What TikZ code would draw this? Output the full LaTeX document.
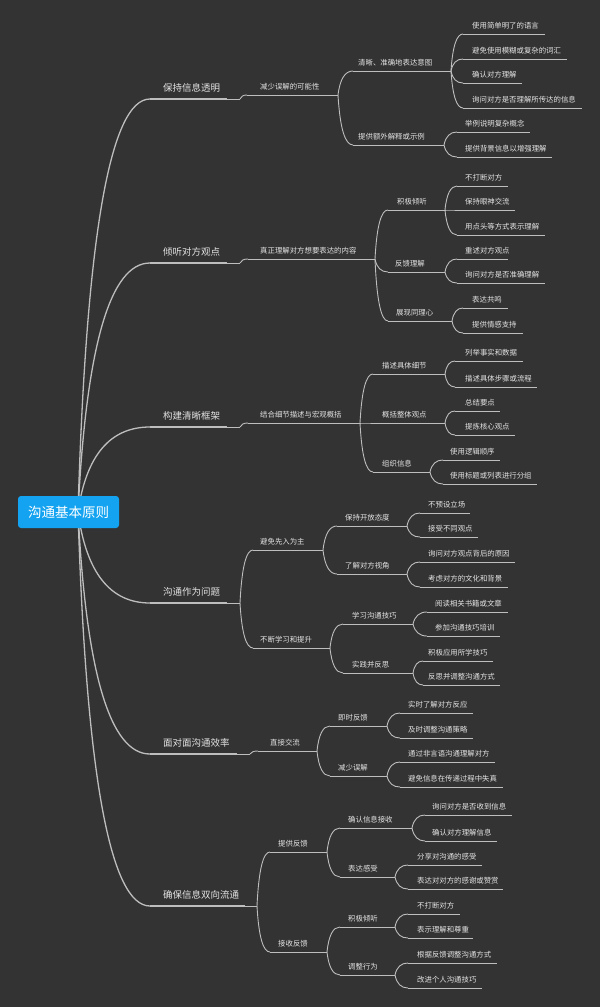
\documentclass[tikz,border=0pt]{standalone}
\usepackage{fontspec}
\setmainfont{Noto Sans CJK SC}
\usetikzlibrary{calc}
\definecolor{bg}{RGB}{51,51,51}
\definecolor{ln}{RGB}{190,190,190}
\definecolor{tx}{RGB}{228,228,228}
\definecolor{rootblue}{RGB}{20,163,240}
\tikzset{
  sub-lbl/.style={text=tx, font=\fontsize{7.4}{8}\selectfont, inner sep=0pt, anchor=west, yshift=8.6pt},
  one-lbl/.style={text=tx, font=\fontsize{9.5}{10}\selectfont, inner sep=0pt, anchor=west, yshift=11.6pt},
  sub-line/.style={draw=ln, line width=0.9pt},
  one-line/.style={draw=ln, line width=2pt},
  link/.style={draw=ln, line width=0.9pt},
  rootlink/.style={draw=ln, line width=1.3pt},
  rootbox/.style={fill=rootblue, rounded corners=3pt, minimum width=101pt, minimum height=32pt,
    text=white, font=\fontsize{13.5}{14}\selectfont, inner sep=0pt}
}
% name, kind, line start, line end, line y, text x, text
\newcommand\mmnode[7]{%
  \coordinate (#1-s) at (#3,#5);
  \coordinate (#1-e) at (#4,#5);
  \node[#2-lbl] (#1) at (#6,#5) {#7};
  \draw[#2-line] (#1-s) -- (#1-e);
}
% style, k, from, to  (quadratic curve with control at (x1+k*dx, y2))
\newcommand\mmlink[4]{%
  \draw[#1] let \p1=(#3), \p2=(#4) in
    (\p1) .. controls ({\x1+0.6667*#2*(\x2-\x1)},{\y1+0.6667*(\y2-\y1)})
          and ({\x2-0.6667*(1-#2)*(\x2-\x1)},{\y2}) .. (\p2);
}
\begin{document}
\begin{tikzpicture}[x=1pt,y=-1pt]
\fill[bg] (0,0) rectangle (600,1007);
\useasboundingbox (0,0) rectangle (600,1007);
\coordinate (root-c) at (78,512);

% ---------- A
\mmnode{A}{one}{150}{227}{99}{163}{保持信息透明}
\coordinate (A-f) at (240,99);
\mmnode{A1}{sub}{247}{338}{95}{260}{减少误解的可能性}
\mmnode{A11}{sub}{353}{451}{71}{358}{清晰、准确地表达意图}
\mmnode{A12}{sub}{353}{444}{145}{358}{提供额外解释或示例}
\mmnode{A111}{sub}{463}{545}{34}{472}{使用简单明了的语言}
\mmnode{A112}{sub}{463}{567}{59}{472}{避免使用模糊或复杂的词汇}
\mmnode{A113}{sub}{463}{522}{83}{472}{确认对方理解}
\mmnode{A114}{sub}{463}{582}{108}{472}{询问对方是否理解所传达的信息}
\mmnode{A121}{sub}{457}{530}{132}{465}{举例说明复杂概念}
\mmnode{A122}{sub}{457}{552}{157}{465}{提供背景信息以增强理解}

% ---------- B
\mmnode{B}{one}{150}{227}{263}{163}{倾听对方观点}
\coordinate (B-f) at (240,263);
\mmnode{B1}{sub}{248}{375}{259}{260}{真正理解对方想要表达的内容}
\mmnode{B11}{sub}{388}{445}{210}{397}{积极倾听}
\mmnode{B12}{sub}{388}{445}{272}{395}{反馈理解}
\mmnode{B13}{sub}{388}{452}{321}{396}{展现同理心}
\mmnode{B111}{sub}{457}{508}{186}{465}{不打断对方}
\mmnode{B112}{sub}{457}{515}{210}{465}{保持眼神交流}
\mmnode{B113}{sub}{457}{545}{235}{465}{用点头等方式表示理解}
\mmnode{B121}{sub}{457}{508}{259}{465}{重述对方观点}
\mmnode{B122}{sub}{457}{545}{283}{465}{询问对方是否准确理解}
\mmnode{B131}{sub}{463}{508}{308}{472}{表达共鸣}
\mmnode{B132}{sub}{463}{523}{333}{472}{提供情感支持}

% ---------- C
\mmnode{C}{one}{150}{227}{427}{163}{构建清晰框架}
\coordinate (C-f) at (240,427);
\mmnode{C1}{sub}{248}{360}{423}{260}{结合细节描述与宏观概括}
\mmnode{C11}{sub}{373}{445}{374}{382}{描述具体细节}
\mmnode{C12}{sub}{373}{445}{423}{382}{概括整体观点}
\mmnode{C13}{sub}{373}{430}{472}{382}{组织信息}
\mmnode{C111}{sub}{455}{523}{361}{465}{列举事实和数据}
\mmnode{C112}{sub}{455}{537}{387}{465}{描述具体步骤或流程}
\mmnode{C121}{sub}{455}{500}{411}{465}{总结要点}
\mmnode{C122}{sub}{455}{515}{435}{465}{提炼核心观点}
\mmnode{C131}{sub}{443}{500}{460}{450}{使用逻辑顺序}
\mmnode{C132}{sub}{443}{537}{484}{450}{使用标题或列表进行分组}

% ---------- D
\mmnode{D}{one}{150}{227}{603}{163}{沟通作为问题}
\coordinate (D-f) at (240,603);
\mmnode{D1}{sub}{253}{323}{550}{260}{避免先入为主}
\mmnode{D2}{sub}{253}{330}{648}{260}{不断学习和提升}
\mmnode{D11}{sub}{337}{407}{526}{345}{保持开放态度}
\mmnode{D12}{sub}{337}{407}{574}{345}{了解对方视角}
\mmnode{D21}{sub}{343}{413}{624}{352}{学习沟通技巧}
\mmnode{D22}{sub}{343}{413}{673}{352}{实践并反思}
\mmnode{D111}{sub}{420}{470}{513}{428}{不预设立场}
\mmnode{D112}{sub}{420}{478}{537}{428}{接受不同观点}
\mmnode{D121}{sub}{420}{515}{562}{428}{询问对方观点背后的原因}
\mmnode{D122}{sub}{420}{508}{587}{428}{考虑对方的文化和背景}
\mmnode{D211}{sub}{427}{508}{612}{435}{阅读相关书籍或文章}
\mmnode{D212}{sub}{427}{500}{636}{435}{参加沟通技巧培训}
\mmnode{D221}{sub}{423}{493}{661}{428}{积极应用所学技巧}
\mmnode{D222}{sub}{423}{500}{685}{428}{反思并调整沟通方式}

% ---------- E
\mmnode{E}{one}{150}{237}{754}{163}{面对面沟通效率}
\coordinate (E-f) at (250,754);
\mmnode{E1}{sub}{258}{317}{751}{270}{直接交流}
\mmnode{E11}{sub}{330}{387}{726}{338}{即时反馈}
\mmnode{E12}{sub}{330}{387}{776}{338}{减少误解}
\mmnode{E111}{sub}{400}{473}{713}{408}{实时了解对方反应}
\mmnode{E112}{sub}{400}{473}{738}{408}{及时调整沟通策略}
\mmnode{E121}{sub}{400}{495}{762}{408}{通过非言语沟通理解对方}
\mmnode{E122}{sub}{400}{503}{787}{408}{避免信息在传递过程中失真}

% ---------- F
\mmnode{F}{one}{150}{245}{906}{163}{确保信息双向流通}
\coordinate (F-f) at (257,906);
\mmnode{F1}{sub}{270}{327}{852}{278}{提供反馈}
\mmnode{F2}{sub}{270}{327}{952}{278}{接收反馈}
\mmnode{F11}{sub}{340}{412}{828}{348}{确认信息接收}
\mmnode{F12}{sub}{340}{395}{877}{348}{表达感受}
\mmnode{F21}{sub}{340}{395}{927}{348}{积极倾听}
\mmnode{F22}{sub}{340}{395}{975}{348}{调整行为}
\mmnode{F111}{sub}{425}{512}{815}{432}{询问对方是否收到信息}
\mmnode{F112}{sub}{425}{497}{841}{432}{确认对方理解信息}
\mmnode{F121}{sub}{408}{482}{865}{417}{分享对沟通的感受}
\mmnode{F122}{sub}{408}{503}{889}{417}{表达对对方的感谢或赞赏}
\mmnode{F211}{sub}{408}{460}{914}{417}{不打断对方}
\mmnode{F212}{sub}{408}{473}{938}{417}{表示理解和尊重}
\mmnode{F221}{sub}{408}{497}{963}{417}{根据反馈调整沟通方式}
\mmnode{F222}{sub}{408}{482}{988}{417}{改进个人沟通技巧}

% ---------- connectors
\foreach \t in {A,B,C,D,E,F}{ \mmlink{rootlink}{0.17}{root-c}{\t-s} }
\foreach \t in {A,B,C,D,E,F}{ \draw[link] (\t-e) -- (\t-f); }
\foreach \a/\b in {A-f/A1-s, A1-e/A11-s, A1-e/A12-s,
  A11-e/A111-s, A11-e/A112-s, A11-e/A113-s, A11-e/A114-s, A12-e/A121-s, A12-e/A122-s,
  B-f/B1-s, B1-e/B11-s, B1-e/B12-s, B1-e/B13-s,
  B11-e/B111-s, B11-e/B112-s, B11-e/B113-s, B12-e/B121-s, B12-e/B122-s, B13-e/B131-s, B13-e/B132-s,
  C-f/C1-s, C1-e/C11-s, C1-e/C12-s, C1-e/C13-s,
  C11-e/C111-s, C11-e/C112-s, C12-e/C121-s, C12-e/C122-s, C13-e/C131-s, C13-e/C132-s,
  D-f/D1-s, D-f/D2-s, D1-e/D11-s, D1-e/D12-s, D2-e/D21-s, D2-e/D22-s,
  D11-e/D111-s, D11-e/D112-s, D12-e/D121-s, D12-e/D122-s, D21-e/D211-s, D21-e/D212-s, D22-e/D221-s, D22-e/D222-s,
  E-f/E1-s, E1-e/E11-s, E1-e/E12-s,
  E11-e/E111-s, E11-e/E112-s, E12-e/E121-s, E12-e/E122-s,
  F-f/F1-s, F-f/F2-s, F1-e/F11-s, F1-e/F12-s, F2-e/F21-s, F2-e/F22-s,
  F11-e/F111-s, F11-e/F112-s, F12-e/F121-s, F12-e/F122-s, F21-e/F211-s, F21-e/F212-s, F22-e/F221-s, F22-e/F222-s}
  { \mmlink{link}{0.2}{\a}{\b} }

% ---------- root
\node[rootbox] (root) at (68.5,512) {沟通基本原则};
\end{tikzpicture}
\end{document}
